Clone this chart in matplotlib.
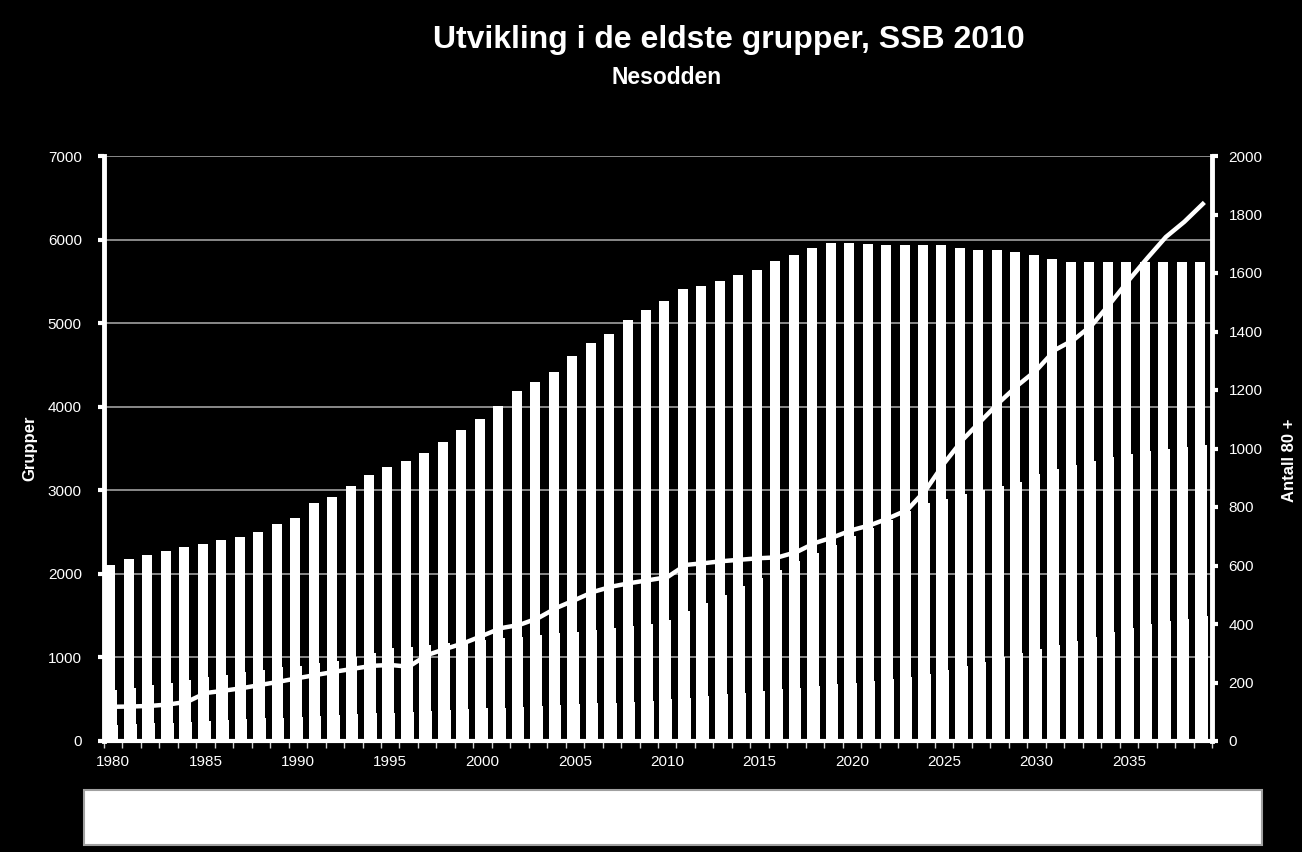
import matplotlib.pyplot as plt
import matplotlib.patches as mpatches
import numpy as np

plt.rcParams['font.family'] = ['Liberation Sans', 'DejaVu Sans']

years = list(range(1980, 2040))

# tall bars (left axis)
grupper_a = [2106, 2178, 2226, 2274, 2321, 2357, 2405, 2441, 2501, 2597,
             2668, 2848, 2920, 3051, 3183, 3279, 3350, 3446, 3578, 3722,
             3853, 4009, 4188, 4296, 4416, 4607, 4763, 4870, 5038, 5157,
             5265, 5409, 5444, 5504, 5576, 5636, 5744, 5815, 5899, 5959,
             5959, 5947, 5935, 5935, 5935, 5935, 5899, 5875, 5875, 5851,
             5815, 5768, 5732, 5732, 5732, 5732, 5732, 5732, 5732, 5732]
# second group (left axis)
grupper_b = [610, 640, 670, 700, 730, 760, 790, 820, 850, 880,
             900, 930, 960, 1000, 1050, 1115, 1130, 1150, 1170, 1190,
             1210, 1230, 1250, 1270, 1290, 1310, 1330, 1350, 1380, 1400,
             1450, 1550, 1650, 1750, 1850, 1950, 2050, 2150, 2250, 2350,
             2450, 2550, 2650, 2750, 2850, 2900, 2950, 3000, 3050, 3100,
             3200, 3250, 3300, 3350, 3400, 3440, 3470, 3500, 3520, 3540]
# third group (left axis)
grupper_c = [190, 200, 210, 220, 230, 240, 250, 260, 270, 280,
             290, 300, 310, 320, 330, 340, 350, 360, 370, 380,
             390, 400, 410, 420, 430, 440, 450, 460, 470, 480,
             500, 520, 540, 560, 580, 600, 620, 640, 660, 680,
             700, 720, 740, 760, 800, 850, 900, 950, 1000, 1050,
             1100, 1150, 1200, 1250, 1300, 1350, 1400, 1430, 1460, 1490]
# line, right axis
antall_80 = [117, 118, 120, 125, 134, 164, 172, 181, 192, 203,
             215, 226, 237, 247, 257, 260, 254, 294, 315, 335,
             360, 386, 397, 420, 455, 482, 510, 528, 540, 550,
             560, 602, 608, 615, 620, 625, 628, 646, 677, 697,
             721, 738, 762, 790, 858, 950, 1030, 1095, 1159, 1217,
             1268, 1337, 1371, 1422, 1497, 1576, 1651, 1723, 1775, 1836]

fig = plt.figure(figsize=(13.02, 8.52), dpi=100, facecolor='black')
ax = fig.add_axes([104 / 1302, 1 - 741 / 852, (1212 - 104) / 1302, (741 - 156) / 852])
ax.set_facecolor('black')

x = np.array(years)
ax.bar(x - 0.15, grupper_a, width=0.54, color='white', linewidth=0, zorder=2)
ax.bar(x - 0.04, grupper_b, width=0.50, color='white', linewidth=0, zorder=2)
ax.bar(x + 0.03, grupper_c, width=0.48, color='white', linewidth=0, zorder=2)

ax.set_xlim(1979.5, 2039.5)
ax.set_ylim(0, 7000)
ax.set_yticks(range(0, 7001, 1000))
ax.yaxis.grid(True, color='#a0a0a0', linewidth=1.2, zorder=1)
ax.set_axisbelow(True)
ax.set_xticks(range(1980, 2040, 5))
ax.set_xticks(np.arange(1979.5, 2040, 1), minor=True)
ax.tick_params(axis='x', which='major', length=0, colors='white', labelsize=11, pad=10)
ax.tick_params(axis='x', which='minor', length=5, color='#d0d0d0', width=1)
ax.tick_params(axis='y', colors='white', labelsize=11, length=4, width=3, pad=12)
ax.spines['top'].set_visible(False)
ax.spines['left'].set_color('white')
ax.spines['left'].set_linewidth(3.5)
ax.spines['bottom'].set_color('white')
ax.spines['bottom'].set_linewidth(3)
ax.spines['right'].set_visible(False)

ax2 = ax.twinx()
ax2.plot(x, antall_80, color='white', linewidth=3.2, zorder=5)
ax2.set_ylim(0, 2000)
ax2.set_yticks(range(0, 2001, 200))
ax2.tick_params(axis='y', colors='white', labelsize=11, length=4, width=3, pad=8)
for s in ['top', 'left', 'bottom']:
    ax2.spines[s].set_visible(False)
ax2.spines['right'].set_color('white')
ax2.spines['right'].set_linewidth(3.5)

fig.text(30 / 1302, 1 - 448 / 852, 'Grupper', color='white', fontsize=12,
         fontweight='bold', rotation=90, ha='center', va='center')
fig.text(1290 / 1302, 1 - 460 / 852, 'Antall 80 +', color='white', fontsize=12,
         fontweight='bold', rotation=90, ha='center', va='center')

fig.text(729 / 1302, 1 - 40 / 852, 'Utvikling i de eldste grupper, SSB 2010', color='white',
         fontsize=23, fontweight='bold', ha='center', va='center')
fig.text(667 / 1302, 1 - 78 / 852, 'Nesodden', color='white',
         fontsize=16.5, fontweight='bold', ha='center', va='center')

box = mpatches.Rectangle((84 / 1302, 1 - 845 / 852), (1262 - 84) / 1302, 55 / 852,
                         transform=fig.transFigure, facecolor='white', edgecolor='#a0a0a0', linewidth=1.5)
fig.patches.append(box)

fig.savefig('out.png', dpi=100, facecolor='black')
